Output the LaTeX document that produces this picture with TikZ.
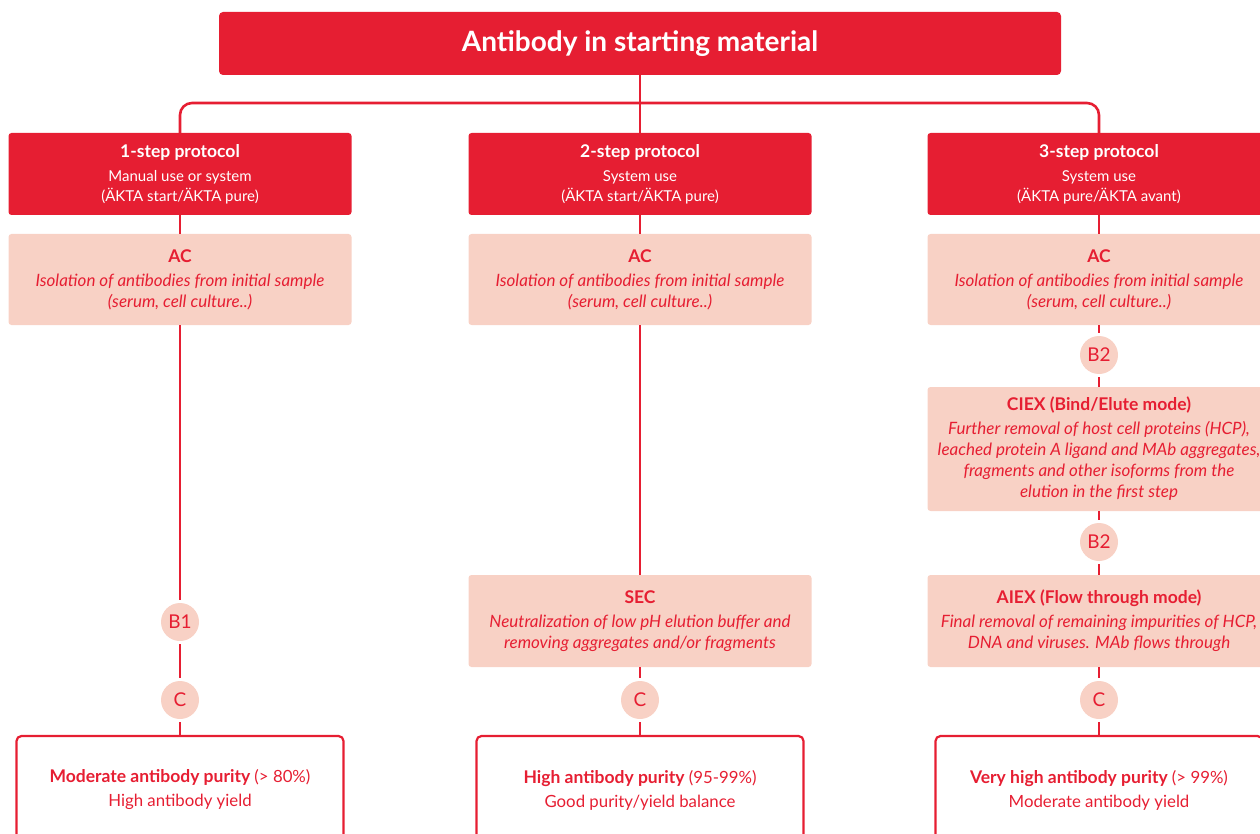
\documentclass[tikz,border=0pt]{standalone}
\usepackage{fontspec}
\setmainfont{Lato}
\usetikzlibrary{positioning}
\definecolor{gered}{HTML}{E61E32}
\definecolor{gepink}{HTML}{F8D1C5}
\tikzset{
    every node/.style={align=center, inner sep=0pt, text=gered},
    link/.style={draw=gered, line width=2.6pt},
    titlebox/.style={fill=gered, text=white, rounded corners=4pt,
        minimum width=842pt, minimum height=63pt,
        font=\fontsize{28}{32}\selectfont\bfseries},
    protobox/.style={fill=gered, text=white, rounded corners=3pt,
        minimum width=343pt, minimum height=82pt,
        font=\fontsize{15}{20}\selectfont},
    stepbox/.style={fill=gepink, rounded corners=3pt,
        minimum width=343pt, font=\fontsize{17}{21}\selectfont\itshape},
    resultbox/.style={draw=gered, line width=2.2pt, rounded corners=5pt,
        minimum width=327pt, minimum height=108pt,
        font=\fontsize{16.8}{24}\selectfont},
    bubble/.style={circle, fill=gepink, minimum size=38pt, outer sep=3pt,
        font=\fontsize{19}{20}\selectfont}
}
\newcommand{\head}[1]{{\fontsize{17.5}{20}\selectfont\bfseries\upshape #1}}
\begin{document}
\begin{tikzpicture}[x=1pt, y=-1pt]
	\useasboundingbox (0,0) rectangle (1260,834);
	\clip (0,0) rectangle (1260,834);
	% top
	\node (title) [titlebox] at (640, 43.5) {Antibody in starting material};
	\coordinate (hub) at (640, 103);
	% protocols
	\node (proto1) [protobox] at (180, 174) {\head{1-step protocol}\\[4pt]Manual use or system\\(ÄKTA start/ÄKTA pure)};
	\node (proto2) [protobox] at (640, 174) {\head{2-step protocol}\\[4pt]System use\\(ÄKTA start/ÄKTA pure)};
	\node (proto3) [protobox] at (1099, 174) {\head{3-step protocol}\\[4pt]System use\\(ÄKTA pure/ÄKTA avant)};
	% capture
	\node (ac1) [stepbox, minimum height=91pt] at (180, 279.5) {\head{AC}\\[3pt]Isolation of antibodies from initial sample\\(serum, cell culture..)};
	\node (ac2) [stepbox, minimum height=91pt] at (640, 279.5) {\head{AC}\\[3pt]Isolation of antibodies from initial sample\\(serum, cell culture..)};
	\node (ac3) [stepbox, minimum height=91pt] at (1099, 279.5) {\head{AC}\\[3pt]Isolation of antibodies from initial sample\\(serum, cell culture..)};
	% polishing
	\node (b1) [bubble] at (180, 622) {B1};
	\node (b2a) [bubble] at (1099, 355) {B2};
	\node (ciex) [stepbox, minimum height=124pt] at (1099, 449) {\head{CIEX (Bind/Elute mode)}\\[3pt]Further removal of host cell proteins (HCP),\\leached protein A ligand and MAb aggregates,\\fragments and other isoforms from the\\elution in the first step};
	\node (b2b) [bubble] at (1099, 542) {B2};
	\node (sec) [stepbox, minimum height=92pt] at (640, 621) {\head{SEC}\\[3pt]Neutralization of low pH elution buffer and\\removing aggregates and/or fragments};
	\node (aiex) [stepbox, minimum height=92pt] at (1099, 621) {\head{AIEX (Flow through mode)}\\[3pt]Final removal of remaining impurities of HCP,\\DNA and viruses. MAb flows through};
	\node (c1) [bubble] at (180, 700) {C};
	\node (c2) [bubble] at (640, 700) {C};
	\node (c3) [bubble] at (1099, 700) {C};
	% results
	\node (res1) [resultbox] at (180, 790) {\head{Moderate antibody purity} (> 80\%)\\High antibody yield};
	\node (res2) [resultbox] at (640, 790) {\head{High antibody purity} (95-99\%)\\Good purity/yield balance};
	\node (res3) [resultbox] at (1099, 790) {\head{Very high antibody purity} (> 99\%)\\Moderate antibody yield};

	\draw [link] (title) -- (hub);
	\draw [link, rounded corners=12pt] (proto1.north) |- (hub) -| (proto3.north);
	\draw [link] (hub) -- (proto2);
	\draw [link] (proto1) -- (ac1); \draw [link] (ac1) -- (b1);
	\draw [link] (b1) -- (c1); \draw [link] (c1) -- (res1);
	\draw [link] (proto2) -- (ac2); \draw [link] (ac2) -- (sec);
	\draw [link] (sec) -- (c2); \draw [link] (c2) -- (res2);
	\draw [link] (proto3) -- (ac3); \draw [link] (ac3) -- (b2a);
	\draw [link] (b2a) -- (ciex); \draw [link] (ciex) -- (b2b);
	\draw [link] (b2b) -- (aiex); \draw [link] (aiex) -- (c3);
	\draw [link] (c3) -- (res3);
\end{tikzpicture}
\end{document}
